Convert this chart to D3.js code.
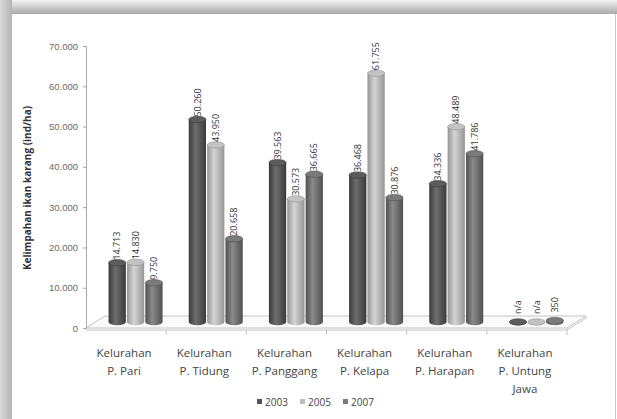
<!DOCTYPE html>
<html>
<head>
<meta charset="utf-8">
<script src="https://cdn.jsdelivr.net/npm/d3@7"></script>
<style>
  body { margin: 0; background: #fff; }
  svg { display: block; font-family: "Open Sans", "DejaVu Sans", sans-serif; }
</style>
</head>
<body>
<div id="chart"></div>
<script>
// data
var categories = [
  ["Kelurahan", "P. Pari"],
  ["Kelurahan", "P. Tidung"],
  ["Kelurahan", "P. Panggang"],
  ["Kelurahan", "P. Kelapa"],
  ["Kelurahan", "P. Harapan"],
  ["Kelurahan", "P. Untung", "Jawa"]
];
var years = ["2003", "2005", "2007"];
var values2003 = [14713, 50260, 39563, 36468, 34336, null];
var values2005 = [14830, 43950, 30573, 61755, 48489, null];
var values2007 = [9750, 20658, 36665, 30876, 41786, 350];
var yTicks = [0, 10000, 20000, 30000, 40000, 50000, 60000, 70000];

var series = [values2003, values2005, values2007];
var colors = [
  {dark: "#3a3a3a", mid: "#6e6e6e", top: "#5c5c5c", key: "#555"},
  {dark: "#959595", mid: "#d4d4d4", top: "#c2c2c2", key: "#bdbdbd"},
  {dark: "#505050", mid: "#8a8a8a", top: "#7a7a7a", key: "#7a7a7a"}
];

var W = 617, H = 419;
var svg = d3.select("#chart").append("svg").attr("width", W).attr("height", H);
var defs = svg.append("defs");

// frame / page shadow
var topGrad = defs.append("linearGradient").attr("id", "topShade")
  .attr("x1", 0).attr("y1", 0).attr("x2", 0).attr("y2", 1);
topGrad.append("stop").attr("offset", 0).attr("stop-color", "#f2f2f2");
topGrad.append("stop").attr("offset", 1).attr("stop-color", "#a9a9a9");
var leftGrad = defs.append("linearGradient").attr("id", "leftShade");
leftGrad.append("stop").attr("offset", 0).attr("stop-color", "#d9d9d9");
leftGrad.append("stop").attr("offset", 1).attr("stop-color", "#b4b4b4");

svg.append("rect").attr("x", 0).attr("y", 0).attr("width", W).attr("height", 14).attr("fill", "url(#topShade)");
svg.append("rect").attr("x", 0).attr("y", 0).attr("width", 12).attr("height", H).attr("fill", "url(#leftShade)");
svg.append("rect").attr("x", 12).attr("y", 14).attr("width", 603).attr("height", H - 14).attr("fill", "#fff");
svg.append("line").attr("x1", 615.5).attr("x2", 615.5).attr("y1", 14).attr("y2", H).attr("stroke", "#c8c8c8");

// scales
var x0 = d3.scaleBand().domain(d3.range(categories.length)).range([86, 567]).padding(0);
var x1 = d3.scaleBand().domain(years).range([-27, 27]).paddingInner(0.06);
var y = d3.scaleLinear().domain([0, 70000]).range([328, 46]);
var depthX = 9.5, depthY = -6;   // bars stand mid-way into the floor
var fmt = d3.formatLocale({decimal: ",", thousands: ".", grouping: [3], currency: ["", ""]}).format(",.0f");

// floor
var fl = x0.range()[0], fr = x0.range()[1], fy = y(0);
var floor = svg.append("g").attr("fill", "none").attr("stroke", "#c4c4c4").attr("stroke-width", 1);
floor.append("path").attr("fill", "#fafafa")
  .attr("d", "M" + fl + "," + fy + "L" + (fl + 19) + "," + (fy - 12) + "L" + (fr + 19) + "," + (fy - 12) + "L" + fr + "," + fy + "Z");
floor.append("path")
  .attr("d", "M" + fl + "," + (fy + 2) + "L" + fr + "," + (fy + 2) + "L" + (fr + 19) + "," + (fy - 10) + "L" + (fr + 19) + "," + (fy - 12));
floor.append("line").attr("x1", fr).attr("x2", fr).attr("y1", fy).attr("y2", fy + 7);
floor.selectAll(".ctick").data(d3.range(1, categories.length))
  .enter().append("line")
  .attr("x1", function(i) { return x0(i); }).attr("x2", function(i) { return x0(i); })
  .attr("y1", fy + 2).attr("y2", fy + 7);

// y axis
var yAxis = svg.append("g").attr("transform", "translate(86,0)")
  .call(d3.axisLeft(y).tickValues(yTicks).tickSize(3).tickPadding(5).tickFormat(fmt));
yAxis.select(".domain").attr("stroke", "#a8a8a8");
yAxis.selectAll(".tick line").attr("stroke", "#a8a8a8");
yAxis.selectAll(".tick text").attr("fill", "#6a6a6a").style("font-size", "9.5px");

svg.append("text")
  .attr("transform", "translate(31," + 188 + ") rotate(-90)")
  .attr("text-anchor", "middle")
  .style("font-size", "10px").style("font-weight", "bold").attr("fill", "#333")
  .text("Kelimpahan ikan karang (ind/ha)");

// cylinder gradients
colors.forEach(function(c, i) {
  var g = defs.append("linearGradient").attr("id", "cyl" + i);
  g.append("stop").attr("offset", 0).attr("stop-color", c.dark);
  g.append("stop").attr("offset", 0.4).attr("stop-color", c.mid);
  g.append("stop").attr("offset", 1).attr("stop-color", c.dark);
});

// bars
var bw = x1.bandwidth(), ry = 3.2;
var groups = svg.selectAll(".grp").data(categories).enter().append("g")
  .attr("class", "grp")
  .attr("transform", function(d, i) { return "translate(" + (x0(i) + x0.bandwidth() / 2 + depthX) + "," + depthY + ")"; });

groups.each(function(cat, ci) {
  var g = d3.select(this);
  years.forEach(function(yr, si) {
    var v = series[si][ci];
    var val = v == null ? 0 : v;
    var bx = x1(yr), cx = bx + bw / 2;
    var top = y(val), base = y(0);
    g.append("path")
      .attr("d", "M" + bx + "," + top + "L" + bx + "," + base +
        "A" + (bw / 2) + "," + ry + " 0 0 0 " + (bx + bw) + "," + base +
        "L" + (bx + bw) + "," + top + "Z")
      .attr("fill", "url(#cyl" + si + ")");
    g.append("ellipse").attr("cx", cx).attr("cy", top).attr("rx", bw / 2).attr("ry", ry)
      .attr("fill", colors[si].top).attr("stroke", colors[si].dark).attr("stroke-width", 0.6);
    g.append("text")
      .attr("transform", "translate(" + cx + "," + (top - (v == null || v < 1000 ? 8 : 3)) + ") rotate(-90)")
      .attr("dy", "0.35em")
      .style("font-size", "9px").attr("fill", "#333")
      .text(v == null ? "n/a" : fmt(v));
  });
});

// category labels
var cl = svg.selectAll(".clab").data(categories).enter().append("text")
  .attr("class", "clab")
  .attr("text-anchor", "middle")
  .attr("fill", "#444")
  .style("font-size", "11.5px")
  .attr("x", function(d, i) { return x0(i) + x0.bandwidth() / 2 - 2; })
  .attr("y", 357);
cl.selectAll("tspan").data(function(d) { return d; }).enter().append("tspan")
  .attr("x", function() { return d3.select(this.parentNode).attr("x"); })
  .attr("dy", function(d, i) { return i ? 18 : 0; })
  .text(function(d) { return d; });

// legend
var legend = svg.append("g").attr("transform", "translate(257,402)");
years.forEach(function(yr, i) {
  var lg = legend.append("g").attr("transform", "translate(" + (i * 43) + ",0)");
  lg.append("rect").attr("x", 0).attr("y", -3).attr("width", 5).attr("height", 5).attr("fill", colors[i].key);
  lg.append("text").attr("x", 8).attr("y", 0).attr("dy", "0.35em")
    .style("font-size", "10px").attr("fill", "#444").text(yr);
});
</script>
</body>
</html>
